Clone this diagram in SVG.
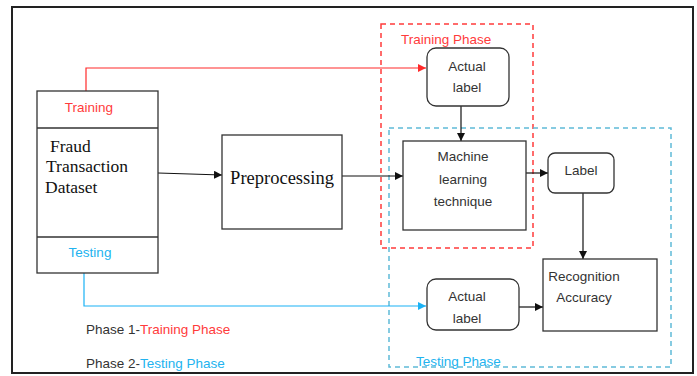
<svg xmlns="http://www.w3.org/2000/svg" width="697" height="376" viewBox="0 0 697 376">
<defs>
<style>
.frame{fill:#fff;stroke:#222;stroke-width:2}
.box{fill:#fff;stroke:#333;stroke-width:1.3}
.sans{font-family:"Liberation Sans","Open Sans",Arial,sans-serif;font-size:13.5px;fill:#333}
.serif{font-family:"Liberation Serif","Times New Roman",serif;font-size:17.5px;fill:#111}
.red{fill:#ff3b3b}
.blue{fill:#22b3ef}
.conn{fill:none;stroke:#111;stroke-width:1.2}
</style>
<marker id="ak" viewBox="0 0 10 10" refX="10" refY="5" markerWidth="8" markerHeight="8" markerUnits="userSpaceOnUse" orient="auto"><path d="M0,0L10,5L0,10z" fill="#111"/></marker>
<marker id="ar" viewBox="0 0 10 10" refX="10" refY="5" markerWidth="8" markerHeight="8" markerUnits="userSpaceOnUse" orient="auto"><path d="M0,0L10,5L0,10z" fill="#ff2a2a"/></marker>
<marker id="ab" viewBox="0 0 10 10" refX="10" refY="5" markerWidth="8" markerHeight="8" markerUnits="userSpaceOnUse" orient="auto"><path d="M0,0L10,5L0,10z" fill="#1ab2f5"/></marker>
</defs>
<rect x="12" y="7" width="681" height="366" class="frame"/>

<g id="training-phase-box">
<rect x="381" y="24" width="152" height="224" fill="none" stroke="#ff3b3b" stroke-width="1.5" stroke-dasharray="5,4"/>
<text x="401" y="44" class="sans red">Training Phase</text>
</g>
<g id="testing-phase-box">
<rect x="389" y="128" width="282" height="239" fill="none" stroke="#5fbad8" stroke-width="1.5" stroke-dasharray="5,4"/>
<text x="416" y="366" class="sans blue">Testing Phase</text>
</g>

<g id="connectors">
<polyline points="86,91 86,68 426,68" fill="none" stroke="#ff2a2a" stroke-width="1.2" marker-end="url(#ar)"/>
<polyline points="84,273 84,306 426,306" fill="none" stroke="#1ab2f5" stroke-width="1.2" marker-end="url(#ab)"/>
<line x1="158" y1="173" x2="222" y2="175" class="conn" marker-end="url(#ak)"/>
<line x1="342" y1="176" x2="403" y2="176" class="conn" marker-end="url(#ak)"/>
<line x1="461" y1="106" x2="461" y2="141" class="conn" marker-end="url(#ak)"/>
<line x1="526" y1="173" x2="548" y2="173" class="conn" marker-end="url(#ak)"/>
<line x1="583" y1="193" x2="583" y2="259" class="conn" marker-end="url(#ak)"/>
<line x1="519" y1="307" x2="543" y2="307" class="conn" marker-end="url(#ak)"/>
</g>

<g id="dataset">
<rect x="37" y="91" width="121" height="182" class="box"/>
<line x1="37" y1="128" x2="158" y2="128" stroke="#333" stroke-width="1.3"/>
<line x1="37" y1="237" x2="158" y2="237" stroke="#333" stroke-width="1.3"/>
<text x="89" y="112" text-anchor="middle" class="sans red">Training</text>
<text x="50" y="152" class="serif">Fraud</text>
<text x="46" y="172" class="serif">Transaction</text>
<text x="45" y="193" class="serif">Dataset</text>
<text x="90" y="257" text-anchor="middle" class="sans blue">Testing</text>
</g>

<g id="preprocessing">
<rect x="222" y="135" width="120" height="94" class="box"/>
<text x="282" y="184" text-anchor="middle" class="serif" style="font-size:18.5px">Preprocessing</text>
</g>

<g id="actual-label-train">
<rect x="427" y="48" width="82" height="58" rx="9" class="box"/>
<text x="467" y="71" text-anchor="middle" class="sans">Actual</text>
<text x="467" y="92" text-anchor="middle" class="sans">label</text>
</g>

<g id="ml-technique">
<rect x="403" y="141" width="123" height="89" class="box"/>
<text x="463" y="161" text-anchor="middle" class="sans">Machine</text>
<text x="463" y="184" text-anchor="middle" class="sans">learning</text>
<text x="463" y="206" text-anchor="middle" class="sans">technique</text>
</g>

<g id="label">
<rect x="548" y="153" width="66" height="40" rx="7" class="box"/>
<text x="581" y="175" text-anchor="middle" class="sans">Label</text>
</g>

<g id="recognition">
<rect x="543" y="259" width="114" height="72" class="box"/>
<text x="584" y="281" text-anchor="middle" class="sans">Recognition</text>
<text x="584" y="302" text-anchor="middle" class="sans">Accuracy</text>
</g>

<g id="actual-label-test">
<rect x="427" y="279" width="92" height="51" rx="9" class="box"/>
<text x="467" y="301" text-anchor="middle" class="sans">Actual</text>
<text x="467" y="323" text-anchor="middle" class="sans">label</text>
</g>

<g id="legend">
<text x="86" y="334" class="sans">Phase 1-<tspan class="red">Training Phase</tspan></text>
<text x="86" y="368" class="sans">Phase 2-<tspan class="blue">Testing Phase</tspan></text>
</g>
</svg>
